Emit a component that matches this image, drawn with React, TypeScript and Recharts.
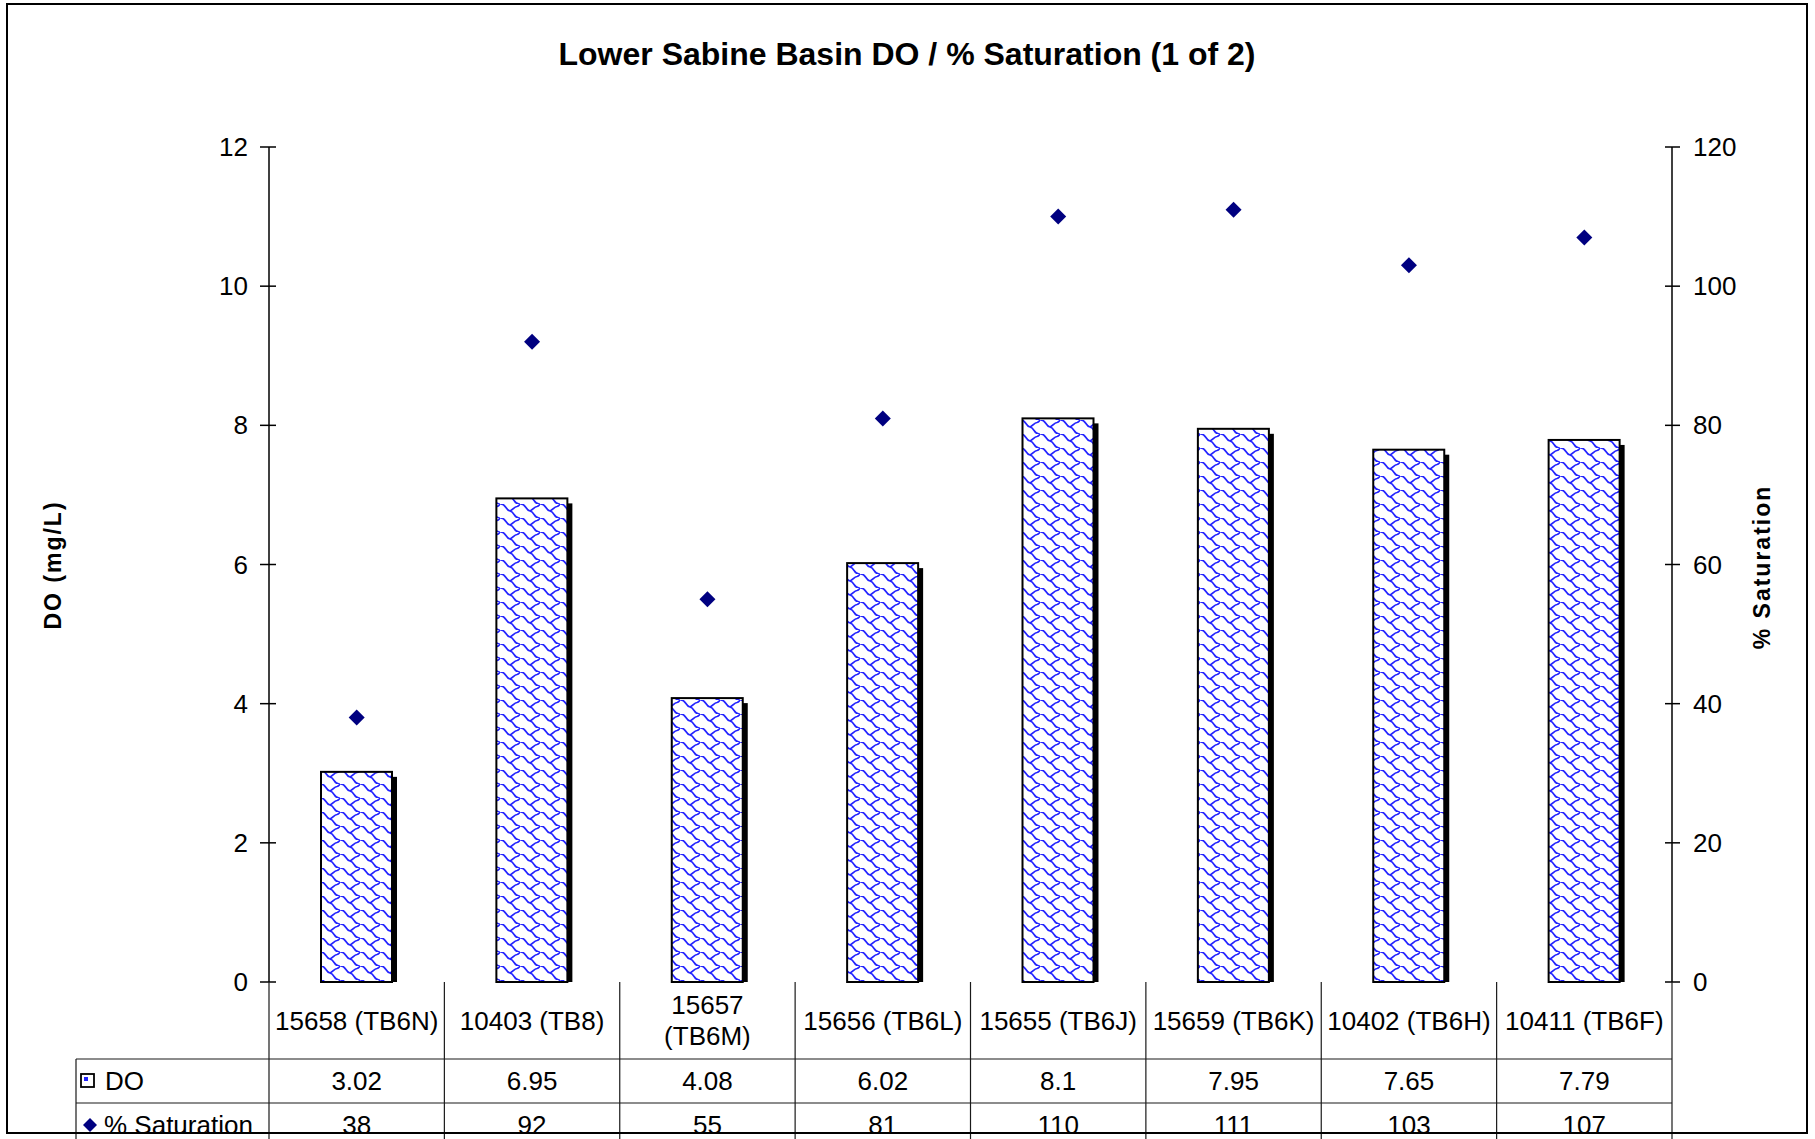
import { ComposedChart, Bar, Scatter, XAxis, YAxis } from 'recharts';

const categories = [
  '15658 (TB6N)',
  '10403 (TB8)',
  '15657\n(TB6M)',
  '15656 (TB6L)',
  '15655 (TB6J)',
  '15659 (TB6K)',
  '10402 (TB6H)',
  '10411 (TB6F)',
];
const doValues = [3.02, 6.95, 4.08, 6.02, 8.1, 7.95, 7.65, 7.79];
const saturationValues = [38, 92, 55, 81, 110, 111, 103, 107];
const doTicks = [0, 2, 4, 6, 8, 10, 12];
const satTicks = [0, 20, 40, 60, 80, 100, 120];

const data = categories.map((name, i) => ({ name, do: doValues[i], sat: saturationValues[i] }));

const FONT = 'Arial, "Liberation Sans", sans-serif';
const W = 1815;
const H = 1139;
// plot area edges (page px)
const PLOT_LEFT = 269;
const PLOT_RIGHT = 1672;
const PLOT_TOP = 147;
const PLOT_BOTTOM = 982;
const AXIS_W = 60;
const COL_W = (PLOT_RIGHT - PLOT_LEFT) / categories.length;
const CAT_H = 77;
const ROW_H = 44;
const LEGEND_LEFT = 76;
const LINE = '#1a1a1a';
const WAVE = '#2323ff';

function LeftTick(props: any) {
  const { x, y, payload } = props;
  const ax = x + 21;
  return (
    <g>
      <line x1={ax - 9} x2={ax + 7} y1={y} y2={y} stroke="#000" strokeWidth={1.5} />
      <text x={x} y={y} dy="0.35em" textAnchor="end" fontSize={26} fontFamily={FONT} fill="#000">
        {payload.value}
      </text>
    </g>
  );
}

function RightTick(props: any) {
  const { x, y, payload } = props;
  const ax = x - 21;
  return (
    <g>
      <line x1={ax - 7} x2={ax + 8} y1={y} y2={y} stroke="#000" strokeWidth={1.5} />
      <text x={x} y={y} dy="0.35em" textAnchor="start" fontSize={26} fontFamily={FONT} fill="#000">
        {payload.value}
      </text>
    </g>
  );
}

function ShadowBar(props: any) {
  const { x, y, width, height } = props;
  if (!height) return null;
  return (
    <g>
      <rect x={x + 5} y={y + 5} width={width} height={Math.max(height - 5, 0)} fill="#000" />
      <rect x={x} y={y} width={width} height={height} fill="url(#doWeave)" stroke="#000" strokeWidth={2} />
    </g>
  );
}

function Diamond(props: any) {
  const { cx, cy } = props;
  const r = 8;
  return (
    <polygon
      points={`${cx},${cy - r} ${cx + r},${cy} ${cx},${cy + r} ${cx - r},${cy}`}
      fill="#000080"
    />
  );
}

export default function App() {
  const tableBottom = PLOT_BOTTOM + CAT_H + ROW_H * 2;
  const doRowY = PLOT_BOTTOM + CAT_H;
  const satRowY = doRowY + ROW_H;

  return (
    <div
      style={{
        position: 'absolute',
        left: 0,
        top: 0,
        width: W,
        height: H,
        overflow: 'hidden',
        background: '#fff',
        fontFamily: FONT,
      }}
    >
      <ComposedChart
        width={W}
        height={H}
        data={data}
        margin={{
          top: PLOT_TOP,
          left: PLOT_LEFT - AXIS_W,
          right: W - PLOT_RIGHT - AXIS_W,
          bottom: H - PLOT_BOTTOM,
        }}
      >
        <defs>
          {/* wavy "shingle" fill used by the DO bars */}
          <pattern id="doWeave" width={20} height={14} patternUnits="userSpaceOnUse">
            <rect width={20} height={14} fill="#fff" />
            <path
              d="M0 0 C6 -1 5 6 10 7 C15 8 14 15 20 14"
              fill="none"
              stroke={WAVE}
              strokeWidth={1.7}
            />
            <path d="M10 7 C13 6 14 3 17 2.5 C18.5 2.2 19.5 1 20 0" fill="none" stroke={WAVE} strokeWidth={1.7} />
          </pattern>
        </defs>
        <XAxis
          dataKey="name"
          height={0}
          tick={false}
          tickLine={false}
          axisLine={{ stroke: '#000', strokeWidth: 1.5 }}
        />
        <XAxis
          xAxisId="top"
          dataKey="name"
          orientation="top"
          height={0}
          tick={false}
          tickLine={false}
          axisLine={{ stroke: '#8a8a8a', strokeWidth: 1.5 }}
        />
        <YAxis
          yAxisId="left"
          width={AXIS_W}
          domain={[0, 12]}
          ticks={doTicks}
          interval={0}
          tickLine={false}
          tickSize={0}
          tickMargin={21}
          tick={<LeftTick />}
          axisLine={{ stroke: '#000', strokeWidth: 1.5 }}
        />
        <YAxis
          yAxisId="right"
          orientation="right"
          width={AXIS_W}
          domain={[0, 120]}
          ticks={satTicks}
          interval={0}
          tickLine={false}
          tickSize={0}
          tickMargin={21}
          tick={<RightTick />}
          axisLine={{ stroke: '#000', strokeWidth: 1.5 }}
        />
        <Bar
          yAxisId="left"
          dataKey="do"
          barSize={71}
          shape={<ShadowBar />}
          isAnimationActive={false}
        />
        <Scatter
          yAxisId="right"
          dataKey="sat"
          shape={<Diamond />}
          isAnimationActive={false}
        />
      </ComposedChart>

      <svg
        width={W}
        height={H}
        style={{ position: 'absolute', left: 0, top: 0, pointerEvents: 'none' }}
        fontFamily={FONT}
      >
        {/* title + axis titles */}
        <text x={907} y={65} textAnchor="middle" fontSize={32} fontWeight="bold" fill="#000">
          Lower Sabine Basin DO / % Saturation (1 of 2)
        </text>
        <text
          transform="translate(60.5, 565) rotate(-90)"
          textAnchor="middle"
          fontSize={23}
          fontWeight="bold"
          letterSpacing={2}
          fill="#000"
        >
          DO (mg/L)
        </text>
        <text
          transform="translate(1770, 567) rotate(-90)"
          textAnchor="middle"
          fontSize={23}
          fontWeight="bold"
          letterSpacing={2}
          fill="#000"
        >
          % Saturation
        </text>

        {/* data table grid */}
        {categories.map((c, i) => (
          <line
            key={`v-${c}`}
            x1={PLOT_LEFT + i * COL_W}
            x2={PLOT_LEFT + i * COL_W}
            y1={PLOT_BOTTOM}
            y2={tableBottom}
            stroke={LINE}
            strokeWidth={1.2}
          />
        ))}
        <line x1={PLOT_RIGHT} x2={PLOT_RIGHT} y1={PLOT_BOTTOM} y2={tableBottom} stroke={LINE} strokeWidth={1.2} />
        <line x1={LEGEND_LEFT} x2={LEGEND_LEFT} y1={doRowY} y2={tableBottom} stroke={LINE} strokeWidth={1.2} />
        <line x1={LEGEND_LEFT} x2={PLOT_RIGHT} y1={doRowY} y2={doRowY} stroke={LINE} strokeWidth={1.2} />
        <line x1={LEGEND_LEFT} x2={PLOT_RIGHT} y1={satRowY} y2={satRowY} stroke={LINE} strokeWidth={1.2} />

        {/* category labels */}
        {categories.map((c, i) => {
          const lines = c.split('\n');
          const cx = PLOT_LEFT + (i + 0.5) * COL_W;
          const cy = PLOT_BOTTOM + CAT_H / 2;
          return (
            <text key={`c-${c}`} x={cx} textAnchor="middle" fontSize={26} fill="#000">
              {lines.map((l, k) => (
                <tspan key={l} x={cx} y={cy + (k - (lines.length - 1) / 2) * 31.5} dy="0.35em">
                  {l}
                </tspan>
              ))}
            </text>
          );
        })}

        {/* values */}
        {doValues.map((v, i) => (
          <text
            key={`d-${i}`}
            x={PLOT_LEFT + (i + 0.5) * COL_W}
            y={doRowY + ROW_H / 2}
            dy="0.35em"
            textAnchor="middle"
            fontSize={26}
            fill="#000"
          >
            {v}
          </text>
        ))}
        {saturationValues.map((v, i) => (
          <text
            key={`s-${i}`}
            x={PLOT_LEFT + (i + 0.5) * COL_W}
            y={satRowY + ROW_H / 2}
            dy="0.35em"
            textAnchor="middle"
            fontSize={26}
            fill="#000"
          >
            {v}
          </text>
        ))}

        {/* legend keys */}
        <rect x={81} y={doRowY + ROW_H / 2 - 7} width={13} height={13} fill="#fff" stroke="#000" strokeWidth={1.8} />
        <rect x={84} y={doRowY + ROW_H / 2 - 4} width={4} height={4} fill={WAVE} />
        <text x={105} y={doRowY + ROW_H / 2} dy="0.35em" fontSize={26} fill="#000">
          DO
        </text>
        <polygon
          points={`90,${satRowY + ROW_H / 2 - 7} 97,${satRowY + ROW_H / 2} 90,${satRowY + ROW_H / 2 + 7} 83,${satRowY + ROW_H / 2}`}
          fill="#000080"
        />
        <text x={104} y={satRowY + ROW_H / 2} dy="0.35em" fontSize={26} fill="#000">
          % Saturation
        </text>

        {/* chart area border */}
        <rect x={7} y={4} width={1800} height={1129} fill="none" stroke="#000" strokeWidth={2} />
      </svg>
    </div>
  );
}
